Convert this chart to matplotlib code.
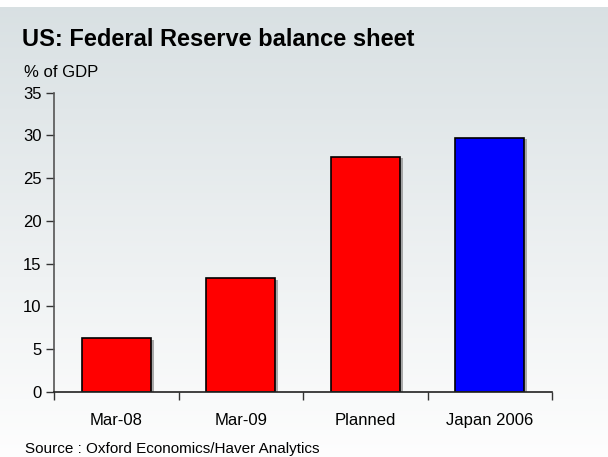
import numpy as np
import matplotlib
matplotlib.use("Agg")
import matplotlib.pyplot as plt
import matplotlib.patheffects as pe

categories = ["Mar-08", "Mar-09", "Planned", "Japan 2006"]
values = [6.3, 13.3, 27.5, 29.7]
bar_colors = ["#ff0000", "#ff0000", "#ff0000", "#0000ff"]
y_ticks = [0, 5, 10, 15, 20, 25, 30, 35]

plt.rcParams["font.family"] = ["Liberation Sans", "DejaVu Sans"]

fig = plt.figure(figsize=(6.08, 4.57), dpi=100)

# background gradient (white strip at top)
bg = fig.add_axes([0, 0, 1, 1], zorder=-10)
top = np.array([0.85, 0.88, 0.89])
bot = np.array([0.995, 0.995, 0.995])
t = np.linspace(0, 1, 300)[:, None]
grad = top + (bot - top) * t
img = np.repeat(grad[:, None, :], 2, axis=1)
bg.imshow(img, aspect="auto", extent=[0, 1, 0, 1 - 7 / 457], origin="upper")
bg.set_xlim(0, 1); bg.set_ylim(0, 1)
bg.axis("off")

ax = fig.add_axes([54 / 608, 1 - 392 / 457, (552 - 54) / 608, (392 - 92.7) / 457])
ax.patch.set_alpha(0)
x = np.arange(len(categories))
bars = ax.bar(x, values, width=0.555, color=bar_colors, edgecolor="black", linewidth=1.2)
for b in bars:
    b.set_path_effects([pe.SimplePatchShadow(offset=(2, -1), shadow_rgbFace="#888888", alpha=0.7), pe.Normal()])

ax.set_xlim(-0.5, 3.5)
ax.set_ylim(0, 35)
ax.set_yticks(y_ticks)
ax.set_xticks(x)
ax.set_xticklabels(categories)
ax.set_xticks(np.arange(-0.5, 4, 1), minor=True)
ax.tick_params(axis="x", which="major", length=0, pad=15, labelsize=12)
ax.tick_params(axis="x", which="minor", length=6, width=1, color="#333333")
ax.tick_params(axis="y", length=6, width=1, color="#333333", labelsize=12, pad=3)
for s in ["top", "right"]:
    ax.spines[s].set_visible(False)
ax.spines["left"].set_color("#555555")
ax.spines["bottom"].set_color("#222222")
ax.spines["left"].set_linewidth(1.2)
ax.spines["bottom"].set_linewidth(1.2)

fig.text(22 / 608, 1 - 40 / 457, "US: Federal Reserve balance sheet", fontsize=17, fontweight="bold", va="center")
fig.text(24 / 608, 1 - 72 / 457, "% of GDP", fontsize=12, va="center")
fig.text(25 / 608, 1 - 449 / 457, "Source : Oxford Economics/Haver Analytics", fontsize=11, va="center")

fig.savefig("out.png", dpi=100)
